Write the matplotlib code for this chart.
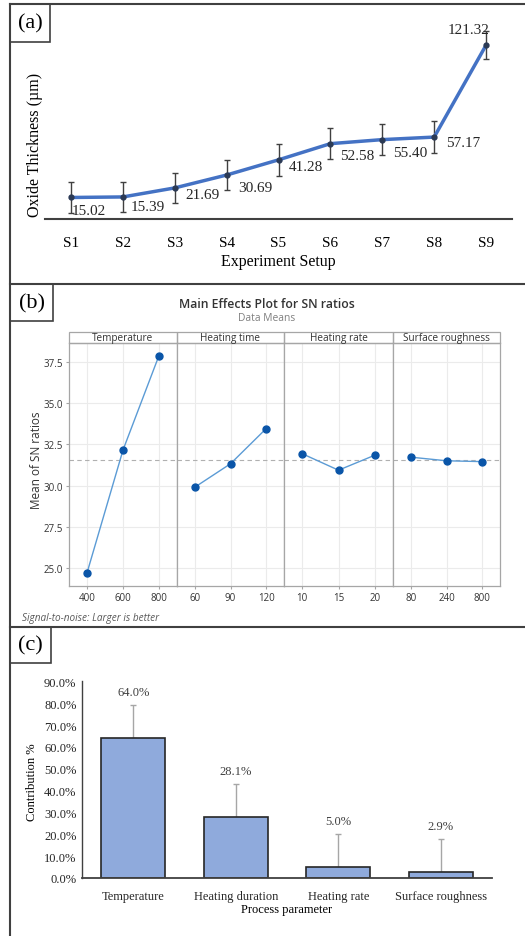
import numpy as np
import matplotlib
matplotlib.use("Agg")
import matplotlib.pyplot as plt
from matplotlib.patches import Rectangle
from matplotlib.lines import Line2D
from matplotlib.ticker import PercentFormatter

# ---- data ----
setups = ["S1", "S2", "S3", "S4", "S5", "S6", "S7", "S8", "S9"]
thickness = [15.02, 15.39, 21.69, 30.69, 41.28, 52.58, 55.40, 57.17, 121.32]
thick_err = [10.5, 10.5, 10.5, 10.5, 11.0, 11.0, 11.0, 11.0, 10.0]

factors = ["Temperature", "Heating time", "Heating rate", "Surface roughness"]
levels = [["400", "600", "800"], ["60", "90", "120"], ["10", "15", "20"], ["80", "240", "800"]]
sn_means = [[24.70, 32.15, 37.88], [29.90, 31.32, 33.45], [31.93, 30.93, 31.84], [31.72, 31.50, 31.45]]

params = ["Temperature", "Heating duration", "Heating rate", "Surface roughness"]
contribution = [64.0, 28.1, 5.0, 2.9]
contrib_err = [15.0, 15.0, 15.0, 15.0]

W, H = 525, 937
fig = plt.figure(figsize=(W / 100, H / 100), dpi=100)
serif = "Liberation Serif"
sans = "Open Sans"

def fx(x):
    return x / W

def fy(y):
    return 1 - y / H

def box(x0, y0, x1, y1):
    return [fx(x0), fy(y1), fx(x1) - fx(x0), fy(y0) - fy(y1)]

# ---- panel frames ----
lc = "#404040"
for (x0, y0, x1, y1) in [(10, 5, 525, 5), (10, 5, 10, 937), (10, 285, 525, 285), (10, 628, 525, 628)]:
    fig.add_artist(Line2D([fx(x0), fx(x1)], [fy(y0), fy(y1)], color=lc, lw=1.5))
for lab, (x0, y0, x1, y1) in zip(["(a)", "(b)", "(c)"], [(10, 5, 50, 43), (10, 285, 53, 322), (10, 628, 51, 664)]):
    fig.add_artist(Rectangle((fx(x0), fy(y1)), fx(x1) - fx(x0), fy(y0) - fy(y1),
                             transform=fig.transFigure, fill=False, ec=lc, lw=1.2))
    fig.text(fx((x0 + x1) / 2), fy((y0 + y1) / 2), lab, family=serif, fontsize=16,
             ha="center", va="center")

# ---- (a) oxide thickness ----
axa = fig.add_axes(box(45, 19.4, 512, 220))
xa = np.arange(len(setups)) + 0.5
axa.errorbar(xa, thickness, yerr=thick_err, fmt="none", ecolor="#404040", elinewidth=1.0, capsize=2.5, zorder=2)
axa.plot(xa, thickness, color="#4472C4", lw=2.5, zorder=3)
axa.plot(xa, thickness, "o", color="#2B3A55", ms=3.5, zorder=4)
offs = [(1, 13), (8, 10), (11, 7), (12, 12), (10, 7), (10, 12), (11, 13), (12, 5)]
for i, (dx, dy) in enumerate(offs):
    axa.annotate(f"{thickness[i]:.2f}", (xa[i], thickness[i]), xytext=(dx, -dy), textcoords="offset pixels",
                 ha="left", va="center", family=serif, fontsize=11, color="#262626")
axa.annotate(f"{thickness[8]:.2f}", (xa[8], thickness[8]), xytext=(-17, 16), textcoords="offset pixels",
             ha="center", va="center", family=serif, fontsize=11, color="#262626",
             arrowprops=dict(arrowstyle="-", color="#A0A0A0", lw=0.8, shrinkA=6, shrinkB=2))
axa.set_xlim(0, len(setups))
axa.set_ylim(0, 140)
axa.set_xticks(xa)
axa.set_xticklabels(setups, family=serif, fontsize=11)
axa.tick_params(axis="x", length=0, pad=12)
axa.set_yticks([])
for s in ["left", "top", "right"]:
    axa.spines[s].set_visible(False)
axa.spines["bottom"].set_color("#404040")
axa.spines["bottom"].set_linewidth(1.5)
axa.set_facecolor("none")
fig.text(fx(278), fy(262), "Experiment Setup", family=serif, fontsize=11.5, ha="center", va="center")
fig.text(fx(35), fy(145), "Oxide Thickness (µm)", family=serif, fontsize=11.5, ha="center", va="center",
         rotation=90)

# ---- (b) main effects plot ----
fig.text(fx(267), fy(304), "Main Effects Plot for SN ratios", family=sans, fontsize=8.8,
         fontweight="semibold", color="#333333", ha="center", va="center")
fig.text(fx(267), fy(318.5), "Data Means", family=sans, fontsize=7.4, color="#7F7F7F", ha="center", va="center")
overall = np.mean(sn_means)
edges = [69, 177, 284, 393, 500]
gc = "#A6A6A6"
for k in range(4):
    ax = fig.add_axes(box(edges[k], 344, edges[k + 1], 587))
    xs = np.arange(3)
    ax.axhline(overall, color="#B0B0B0", ls=(0, (4, 3)), lw=0.8, zorder=1)
    ax.plot(xs, sn_means[k], color="#5B9BD5", lw=1.0, zorder=2)
    ax.plot(xs, sn_means[k], "o", color="#0A55A8", ms=5.0, zorder=3)
    ax.set_xlim(-0.5, 2.5)
    ax.set_ylim(23.91, 38.64)
    ax.set_xticks(xs)
    ax.set_xticklabels(levels[k], family=sans, fontsize=7, color="#333333")
    ax.set_yticks([25.0, 27.5, 30.0, 32.5, 35.0, 37.5])
    ax.grid(True, color="#EBEBEB", lw=0.8)
    ax.set_axisbelow(True)
    ax.tick_params(axis="x", length=2.5, color=gc, pad=2)
    if k == 0:
        ax.set_yticklabels([f"{v:.1f}" for v in ax.get_yticks()], family=sans, fontsize=7, color="#333333")
        ax.tick_params(axis="y", length=2.5, color=gc, pad=2)
    else:
        ax.tick_params(axis="y", length=0, labelleft=False)
    for s in ax.spines.values():
        s.set_color(gc)
        s.set_linewidth(0.9)
    strip_h = 11 / 243
    ax.add_patch(Rectangle((0, 1), 1, strip_h, transform=ax.transAxes, fill=False, ec=gc, lw=0.9, clip_on=False))
    ax.text(0.5, 1 + strip_h / 2, factors[k], transform=ax.transAxes, family=sans, fontsize=7.2,
            color="#333333", ha="center", va="center")
fig.text(fx(36), fy(460), "Mean of SN ratios", family=sans, fontsize=8.5, color="#333333",
         ha="center", va="center", rotation=90)
fig.text(fx(22), fy(618.5), "Signal-to-noise: Larger is better", family=sans, fontsize=7.2, style="italic",
         color="#595959", ha="left", va="center")

# ---- (c) contribution ----
axc = fig.add_axes(box(82, 682.3, 492, 879))
xc = np.arange(len(params)) + 0.5
axc.bar(xc, contribution, width=0.62, color="#8FAADC", edgecolor="#262626", lw=1.2, zorder=2)
axc.errorbar(xc, contribution, yerr=[np.zeros(len(contrib_err)), contrib_err], fmt="none",
             ecolor="#A6A6A6", elinewidth=1.0, capsize=2.5, zorder=1)
for x, v, e in zip(xc, contribution, contrib_err):
    axc.annotate(f"{v:.1f}%", (x, v + e), xytext=(0, 13), textcoords="offset pixels",
                 ha="center", va="center", family=serif, fontsize=9, color="#404040")
axc.set_xlim(0, len(params))
axc.set_ylim(0, 90)
axc.set_yticks(np.arange(0, 91, 10))
axc.yaxis.set_major_formatter(PercentFormatter(decimals=1))
axc.set_xticks(xc)
axc.set_xticklabels(params)
for lab in axc.get_xticklabels() + axc.get_yticklabels():
    lab.set_family(serif)
    lab.set_fontsize(9)
    lab.set_color("#262626")
axc.tick_params(length=0)
axc.tick_params(axis="x", pad=9)
axc.tick_params(axis="y", pad=4)
for s in ["top", "right"]:
    axc.spines[s].set_visible(False)
axc.spines["left"].set_color("#404040")
axc.spines["left"].set_linewidth(1.0)
axc.spines["bottom"].set_color("#404040")
axc.spines["bottom"].set_linewidth(1.3)
fig.text(fx(287), fy(910), "Process parameter", family=serif, fontsize=9, ha="center", va="center")
fig.text(fx(32), fy(782), "Contribution %", family=serif, fontsize=9, ha="center", va="center", rotation=90)

fig.savefig("out.png", dpi=100)
